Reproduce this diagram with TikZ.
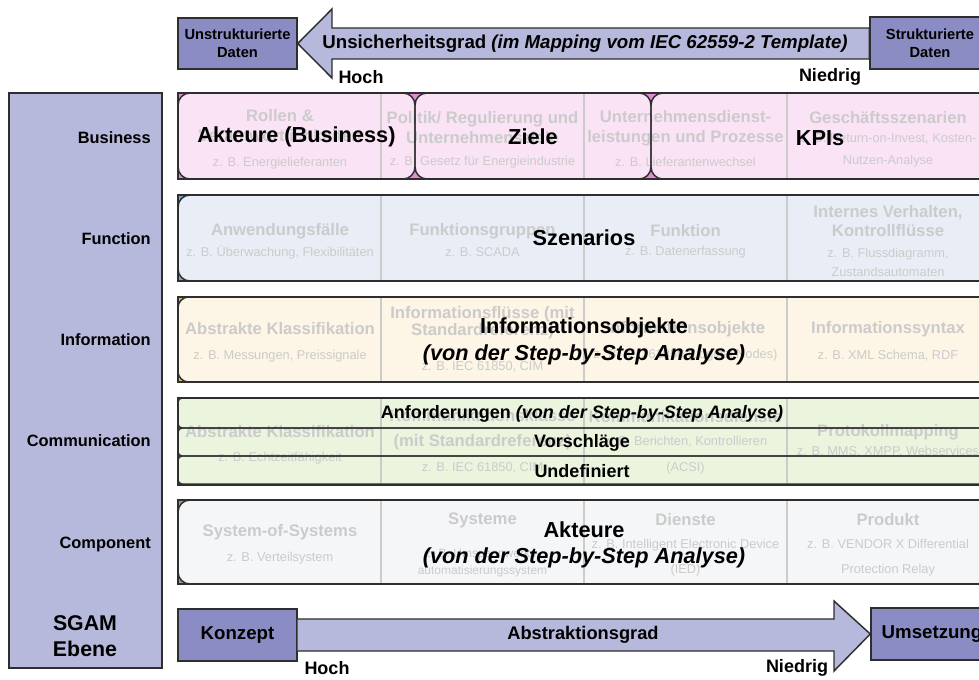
\documentclass[tikz,border=0pt]{standalone}
\usepackage{fontspec}
\setmainfont{Liberation Sans}
\definecolor{lav}{HTML}{B7B9DC}
\definecolor{lavd}{HTML}{8B8CC3}
\definecolor{edge}{HTML}{2E2E2E}
\definecolor{faded}{HTML}{CBCBCB}
\definecolor{bizL}{HTML}{FBE3F6}\definecolor{bizD}{HTML}{E48AD6}
\definecolor{funL}{HTML}{E9EEF6}\definecolor{funD}{HTML}{7FA5D1}
\definecolor{infL}{HTML}{FDF5E5}\definecolor{infD}{HTML}{F2C24E}
\definecolor{comL}{HTML}{EBF5DE}\definecolor{comD}{HTML}{9CCB6E}
\definecolor{cmpL}{HTML}{F5F6F8}\definecolor{cmpD}{HTML}{9A9A9A}
\tikzset{
 outerbox/.style={draw=edge, line width=1.1pt},
 innerbox/.style={draw=edge, line width=1.1pt},
 databox/.style={draw=edge, line width=1.1pt, fill=lavd, align=center, inner sep=0pt,
   font=\bfseries\fontsize{11}{13.5}\selectfont},
 blockarrow/.style={draw=edge, line width=1.1pt, fill=lav, line join=miter},
 layerlbl/.style={font=\bfseries\fontsize{12.3}{14}\selectfont, anchor=east, inner sep=0pt},
 gradlbl/.style={font=\bfseries\fontsize{13.5}{16}\selectfont, inner sep=0pt},
 ftitle/.style={text=faded, align=center, inner sep=0pt, font=\bfseries\fontsize{12.5}{#1}\selectfont},
 ftitle/.default=15,
 fsub/.style={text=faded, align=center, inner sep=0pt, font=\fontsize{9.6}{#1}\selectfont},
 fsub/.default=17,
 colline/.style={draw=faded, line width=0.8pt},
 bigtxt/.style={font=\bfseries\fontsize{16.3}{20}\selectfont, align=center, inner sep=0pt},
 comtxt/.style={font=\bfseries\fontsize{13.5}{16}\selectfont, inner sep=0pt},
}
\begin{document}
\begin{tikzpicture}[x=0.75pt,y=-0.75pt]
\useasboundingbox (0,0) rectangle (979,679);
\clip (0,0) rectangle (979,679);
\fill[white] (0,0) rectangle (979,679);

% ---------- top arrow ----------
\node[databox, minimum width=119*0.75pt, minimum height=51*0.75pt] (unstr) at (237.5,43.5) {Unstrukturierte\\Daten};
\node[databox, minimum width=120*0.75pt, minimum height=52*0.75pt] (struk) at (930,43) {Strukturierte\\Daten};
\draw[blockarrow] (unstr.east) -- (332,9) -- (332,28) -- (struk.west |- 0,28) -- (struk.west |- 0,59) -- (332,59) -- (332,78) -- cycle;
\node[databox, minimum width=120*0.75pt, minimum height=52*0.75pt] (struk2) at (930,43) {Strukturierte\\Daten};
\node[font=\bfseries\fontsize{14}{17}\selectfont, inner sep=0pt] (unsich) at (585,44) {Unsicherheitsgrad \textit{(im Mapping vom IEC 62559-2 Template)}};
\node[gradlbl] (hoch1) at (361,77) {Hoch};
\node[gradlbl] (nied1) at (830,77) {Niedrig};

% ---------- SGAM column ----------
\draw[outerbox, fill=lav] (9,93) rectangle (162,668);
\node[layerlbl] (lb) at (151,138) {Business};
\node[layerlbl] (lf) at (151,239) {Function};
\node[layerlbl] (li) at (151,340) {Information};
\node[layerlbl] (lc) at (151,441) {Communication};
\node[layerlbl] (lk) at (151,544) {Component};
\node[font=\bfseries\fontsize{16}{20}\selectfont, align=center, inner sep=0pt] (sgam) at (85,636) {SGAM\\Ebene};

% ---------- Business ----------
\fill[bizD] (178,93) rectangle (995,179);
\fill[bizL, rounded corners=9pt] (178,93) rectangle (415,179);
\fill[bizL, rounded corners=9pt] (415,93) rectangle (651,179);
\fill[bizL, rounded corners=9pt] (651,93) rectangle (995,179);
\foreach \cx in {381,584,787} \draw[colline] (\cx,93) -- (\cx,179);
\node[ftitle] (b1t) at (280,126) {Rollen \&\\Verantwortlichkeiten};
\node[fsub] (b1s) at (280,163) {z. B. Energielieferanten};
\node[ftitle] (b2t) at (482.5,128) {Politik/ Regulierung und\\Unternehmensziele};
\node[fsub] (b2s) at (482.5,162) {z. B. Gesetz für Energieindustrie};
\node[ftitle] (b3t) at (685.5,128) {Unternehmensdienst-\\leistungen und Prozesse};
\node[fsub] (b3s) at (685.5,162) {z. B. Lieferantenwechsel};
\node[ftitle] (b4t) at (888,118) {Geschäftsszenarien};
\node[fsub] (b4s) at (888,150.5) {z. B. Return-on-Invest, Kosten-\\Nutzen-Analyse};
\draw[innerbox, rounded corners=9pt] (178,93) rectangle (415,179);
\draw[innerbox, rounded corners=9pt] (415,93) rectangle (651,179);
\draw[innerbox, rounded corners=9pt] (651,93) rectangle (995,179);
\draw[outerbox] (178,93) rectangle (995,179);
\node[bigtxt] (akb) at (296.5,137) {Akteure (Business)};
\node[bigtxt] (ziele) at (533,137) {Ziele};
\node[bigtxt] (kpi) at (820,138) {KPIs};

% ---------- Function ----------
\fill[funD] (178,195) rectangle (995,281);
\fill[funL, rounded corners=9pt] (178,195) rectangle (995,281);
\foreach \cx in {381,584,787} \draw[colline] (\cx,195) -- (\cx,281);
\node[ftitle] (f1t) at (280,231) {Anwendungsfälle};
\node[fsub] (f1s) at (280,252) {z. B. Überwachung, Flexibilitäten};
\node[ftitle] (f2t) at (482.5,231) {Funktionsgruppen};
\node[fsub] (f2s) at (482.5,252) {z. B. SCADA};
\node[ftitle] (f3t) at (685.5,231) {Funktion};
\node[fsub] (f3s) at (685.5,252) {z. B. Datenerfassung};
\node[ftitle=14.3] (f4t) at (888,221.5) {Internes Verhalten,\\Kontrollflüsse};
\node[fsub=14.3] (f4s) at (888,262.5) {z. B. Flussdiagramm,\\Zustandsautomaten};
\draw[innerbox, rounded corners=9pt] (178,195) rectangle (995,281);
\draw[outerbox] (178,195) rectangle (995,281);
\node[bigtxt] (szen) at (584,238) {Szenarios};

% ---------- Information ----------
\fill[infD] (178,297) rectangle (995,382);
\fill[infL, rounded corners=8pt] (178,297) rectangle (995,382);
\foreach \cx in {381,584,787} \draw[colline] (\cx,297) -- (\cx,382);
\node[ftitle] (i1t) at (280,329) {Abstrakte Klassifikation};
\node[fsub] (i1s) at (280,356) {z. B. Messungen, Preissignale};
\node[ftitle=12.8] (i2t) at (482.5,322.5) {Informationsflüsse (mit\\Standardreferenz)};
\node[fsub] (i2s) at (482.5,367) {z. B. IEC 61850, CIM};
\node[ftitle] (i3t) at (685.5,329) {Informationsobjekte};
\node[fsub] (i3s) at (685.5,355) {z. B. IEC 61850 (Logical Nodes)};
\node[ftitle] (i4t) at (888,329) {Informationssyntax};
\node[fsub] (i4s) at (888,356) {z. B. XML Schema, RDF};
\draw[innerbox, rounded corners=8pt] (178,297) rectangle (995,382);
\draw[outerbox] (178,297) rectangle (995,382);
\node[bigtxt] (iobj) at (584,341.5) {Informationsobjekte\\\textit{(von der Step-by-Step Analyse)}};

% ---------- Communication ----------
\fill[comD] (178,398) rectangle (995,485);
\fill[comL, rounded corners=3pt] (178,398) rectangle (995,428);
\fill[comL, rounded corners=3pt] (178,428) rectangle (995,456);
\fill[comL, rounded corners=3pt] (178,456) rectangle (995,484);
\foreach \cx in {381,584,787} \draw[colline] (\cx,398) -- (\cx,485);
\node[ftitle] (c1t) at (280,432) {Abstrakte Klassifikation};
\node[fsub] (c1s) at (280,458) {z. B. Echtzeitfähigkeit};
\node[ftitle=18.8] (c2t) at (482.5,429.5) {Kommunikationsklasse\\(mit Standardreferenz)};
\node[fsub] (c2s) at (482.5,468) {z. B. IEC 61850, CIM};
\node[ftitle] (c3t) at (685.5,417) {Kommunikationsdienste};
\node[fsub=19.5] (c3s) at (685.5,455) {z. B. Berichten, Kontrollieren\\(ACSI)};
\node[ftitle] (c4t) at (888,432) {Protokollmapping};
\node[fsub] (c4s) at (888,452) {z. B. MMS, XMPP, Webservices};
\draw[innerbox, rounded corners=3pt] (178,398) rectangle (995,428);
\draw[innerbox, rounded corners=3pt] (178,428) rectangle (995,456);
\draw[innerbox, rounded corners=3pt] (178,456) rectangle (995,484);
\draw[outerbox] (178,398) rectangle (995,485);
\node[comtxt] (anf) at (582,414) {Anforderungen \textit{(von der Step-by-Step Analyse)}};
\node[comtxt] (vor) at (582,443) {Vorschläge};
\node[comtxt] (undef) at (582,471) {Undefiniert};

% ---------- Component ----------
\fill[cmpD] (178,500) rectangle (995,584);
\fill[cmpL, rounded corners=9pt] (178,500) rectangle (995,584);
\foreach \cx in {381,584,787} \draw[colline] (\cx,500) -- (\cx,584);
\node[ftitle] (k1t) at (280,532) {System-of-Systems};
\node[fsub] (k1s) at (280,558) {z. B. Verteilsystem};
\node[ftitle] (k2t) at (482.5,520) {Systeme};
\node[text=faded, align=center, inner sep=0pt, font=\fontsize{9}{12.8}\selectfont] (k2s) at (482.5,562.5) {z. B. Umspannwerks-\\automatisierungssystem};
\node[ftitle] (k3t) at (685.5,520) {Dienste};
\node[fsub=18.8] (k3s) at (685.5,557.5) {z. B. Intelligent Electronic Device\\(IED)};
\node[ftitle] (k4t) at (888,520) {Produkt};
\node[fsub=18.8] (k4s) at (888,557.5) {z. B. VENDOR X Differential\\Protection Relay};
\draw[innerbox, rounded corners=9pt] (178,500) rectangle (995,584);
\draw[outerbox] (178,500) rectangle (995,584);
\node[bigtxt] (akt) at (584,545) {Akteure\\\textit{(von der Step-by-Step Analyse)}};

% ---------- bottom arrow ----------
\node[databox, minimum width=119*0.75pt, minimum height=52*0.75pt, font=\bfseries\fontsize{14}{16}\selectfont] (konz) at (237.5,635) {Konzept};
\node[databox, minimum width=122*0.75pt, minimum height=52*0.75pt, font=\bfseries\fontsize{14}{16}\selectfont] (umset) at (932,634) {Umsetzung};
\draw[blockarrow] (konz.east |- 0,619) -- (834,619) -- (834,601) -- (umset.west) -- (834,671) -- (834,651) -- (konz.east |- 0,651);
\node[font=\bfseries\fontsize{13.7}{16}\selectfont, inner sep=0pt] (abstr) at (583,635) {Abstraktionsgrad};
\node[gradlbl] (hoch2) at (327,668) {Hoch};
\node[gradlbl] (nied2) at (797,668) {Niedrig};
\end{tikzpicture}
\end{document}
